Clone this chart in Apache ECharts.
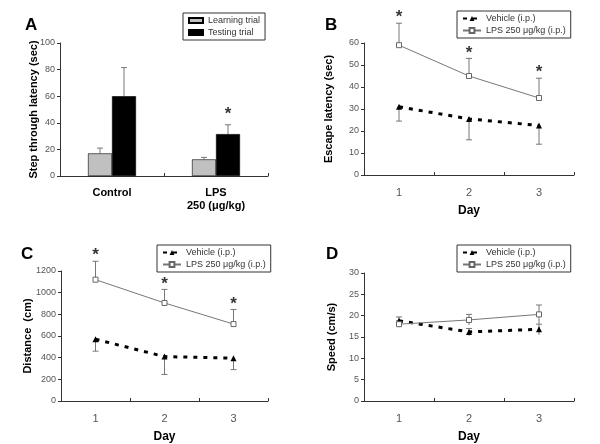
<!DOCTYPE html>
<html>
<head>
<meta charset="utf-8">
<script src="https://cdn.jsdelivr.net/npm/echarts@6/dist/echarts.min.js"></script>
<style>
  body { margin: 0; background: #fff; }
  #chart { width: 600px; height: 444px; }
</style>
</head>
<body>
<div id="chart"></div>
<script>
// panel A: passive avoidance
var aCats = ['Control', 'LPS\n250 (μg/kg)'];
var aLearn = [17, 12.5];
var aLearnErr = [21, 14];
var aTest = [60, 31.5];
var aTestErr = [81.5, 38.5];
var aStar = [null, 42];

// panels B-D: water maze, days 1..3
var days = ['1', '2', '3'];
var bVeh = [31, 25.5, 22.5];
var bVehErr = [24.5, 16, 14];
var bLps = [59, 45, 35];
var bLpsErr = [69, 53, 44];

var cVeh = [570, 410, 395];
var cVehErr = [460, 245, 290];
var cLps = [1120, 905, 710];
var cLpsErr = [1290, 1030, 845];

var dVeh = [18.8, 16.2, 16.8];
var dVehLo = [17.8, 15.3, 15.5];
var dVehHi = [19.7, 17.0, 18.0];
var dLps = [18.0, 19.0, 20.3];
var dLpsLo = [17.3, 17.8, 18.0];
var dLpsHi = [18.8, 20.3, 22.5];

var VEH = 'Vehicle (i.p.)';
var LPS = 'LPS 250 μg/kg (i.p.)';
var FONT = 'Liberation Sans';

function errRender(dx) {
  return function (params, api) {
    var p1 = api.coord([api.value(0), api.value(1)]);
    var p2 = api.coord([api.value(0), api.value(2)]);
    var x = p1[0] + dx;
    var st = { stroke: '#777', lineWidth: 1 };
    return {
      type: 'group',
      children: [
        { type: 'line', shape: { x1: x, y1: p1[1], x2: x, y2: p2[1] }, style: st },
        { type: 'line', shape: { x1: x - 3, y1: p2[1], x2: x + 3, y2: p2[1] }, style: st }
      ]
    };
  };
}

function errData(from, to) {
  return from.map(function (v, i) { return [i, v, to[i]]; });
}

function errSeries(idx, from, to, dx) {
  return {
    type: 'custom', xAxisIndex: idx, yAxisIndex: idx, z: 1, clip: false,
    renderItem: errRender(dx || 0),
    data: errData(from, to), silent: true
  };
}

function starSeries(idx, vals, dx) {
  return {
    type: 'scatter', xAxisIndex: idx, yAxisIndex: idx, symbolSize: 0, silent: true, clip: false,
    data: vals.map(function (v, i) { return v == null ? null : [i, v]; }),
    label: { show: true, formatter: '*', position: 'top', distance: -3, offset: [dx || 0, 0], fontSize: 17, fontWeight: 'bold', color: '#000', fontFamily: FONT }
  };
}

function vehSeries(idx, vals) {
  return {
    name: VEH, type: 'line', xAxisIndex: idx, yAxisIndex: idx, data: vals, z: 3,
    symbol: 'triangle', symbolSize: 6, showSymbol: true,
    itemStyle: { color: '#000' },
    lineStyle: { color: '#000', width: 3, type: [4, 6] }
  };
}

function lpsSeries(idx, vals) {
  return {
    name: LPS, type: 'line', xAxisIndex: idx, yAxisIndex: idx, data: vals, z: 3,
    symbol: 'rect', symbolSize: 5,
    itemStyle: { color: '#fff', borderColor: '#666', borderWidth: 1 },
    lineStyle: { color: '#777', width: 1 }
  };
}

var grids = [
  { left: 60, top: 43, width: 208, height: 133 },
  { left: 364, top: 43, width: 210, height: 132 },
  { left: 61, top: 271, width: 207, height: 132 },
  { left: 364, top: 273, width: 210, height: 131 }
];

var axisLine = { show: true, lineStyle: { color: '#333', width: 1 } };
var tickLab = {
  color: '#555', fontSize: 9, fontFamily: FONT, margin: 5,
  formatter: function (v) { return String(v); }
};
var nameSty = { color: '#000', fontSize: 11, fontWeight: 'bold', fontFamily: FONT };

function xAx(idx, cats, bold) {
  return {
    type: 'category', gridIndex: idx, data: cats,
    name: bold ? '' : 'Day', nameLocation: 'middle', nameGap: 30,
    nameTextStyle: { color: '#000', fontSize: 12, fontWeight: 'bold', fontFamily: FONT },
    axisLine: axisLine,
    axisTick: { show: true, length: 3, inside: true, lineStyle: { color: '#333' } },
    axisLabel: bold
      ? { color: '#000', fontSize: 11, fontWeight: 'bold', fontFamily: FONT, margin: 10, lineHeight: 13 }
      : { color: '#555', fontSize: 11, fontFamily: FONT, margin: 12 }
  };
}

function yAx(idx, name, max, step, gap) {
  return {
    type: 'value', gridIndex: idx, min: 0, max: max, interval: step,
    name: name, nameLocation: 'middle', nameGap: gap, nameTextStyle: nameSty,
    nameMoveOverlap: false,
    axisLine: axisLine,
    axisTick: { show: true, length: 3, lineStyle: { color: '#333' } },
    axisLabel: tickLab, splitLine: { show: false }
  };
}

function legendAt(left, top, names, w, h, icon) {
  var lg = {
    left: left, top: top, orient: 'vertical', data: names,
    borderColor: '#333', borderWidth: 1, padding: [3, 5, 3, 5], itemGap: 3,
    itemWidth: w, itemHeight: h,
    textStyle: { color: '#333', fontSize: 9, fontFamily: FONT },
    selectedMode: false
  };
  if (icon) lg.icon = icon;
  return lg;
}

function letter(t, left, top) {
  return { text: t, left: left, top: top, padding: 0, textStyle: { fontSize: 17, fontWeight: 'bold', color: '#000', fontFamily: FONT } };
}

var option = {
  animation: false,
  backgroundColor: '#fff',
  title: [letter('A', 25, 17), letter('B', 325, 17), letter('C', 21, 246), letter('D', 326, 246)],
  legend: [
    legendAt(183, 13, ['Learning trial', 'Testing trial'], 14, 5, 'rect'),
    legendAt(457, 11, [VEH, LPS], 18, 6),
    legendAt(157, 245, [VEH, LPS], 18, 6),
    legendAt(457, 245, [VEH, LPS], 18, 6)
  ],
  grid: grids,
  xAxis: [xAx(0, aCats, true), xAx(1, days), xAx(2, days), xAx(3, days)],
  yAxis: [
    yAx(0, 'Step through latency (sec)', 100, 20, 21),
    yAx(1, 'Escape latency (sec)', 60, 10, 30),
    yAx(2, 'Distance  (cm)', 1200, 200, 28),
    yAx(3, 'Speed (cm/s)', 30, 5, 27)
  ],
  series: [
    {
      name: 'Learning trial', type: 'bar', xAxisIndex: 0, yAxisIndex: 0, data: aLearn,
      barWidth: 24, barGap: '0%', z: 2,
      itemStyle: { color: '#c0c0c0', borderColor: '#000', borderWidth: 0.6 }
    },
    {
      name: 'Testing trial', type: 'bar', xAxisIndex: 0, yAxisIndex: 0, data: aTest,
      barWidth: 24, barGap: '0%', z: 2,
      itemStyle: { color: '#000', borderColor: '#000', borderWidth: 0.6 }
    },
    errSeries(0, aLearn, aLearnErr, -12),
    errSeries(0, aTest, aTestErr, 12),
    starSeries(0, aStar, 12),

    errSeries(1, bVeh, bVehErr),
    errSeries(1, bLps, bLpsErr),
    vehSeries(1, bVeh),
    lpsSeries(1, bLps),
    starSeries(1, bLpsErr),

    errSeries(2, cVeh, cVehErr),
    errSeries(2, cLps, cLpsErr),
    vehSeries(2, cVeh),
    lpsSeries(2, cLps),
    starSeries(2, cLpsErr),

    errSeries(3, dVehLo, dVehHi),
    errSeries(3, dLpsLo, dLpsHi),
    vehSeries(3, dVeh),
    lpsSeries(3, dLps)
  ]
};

var chart = echarts.init(document.getElementById('chart'));
chart.setOption(option);
</script>
</body>
</html>
